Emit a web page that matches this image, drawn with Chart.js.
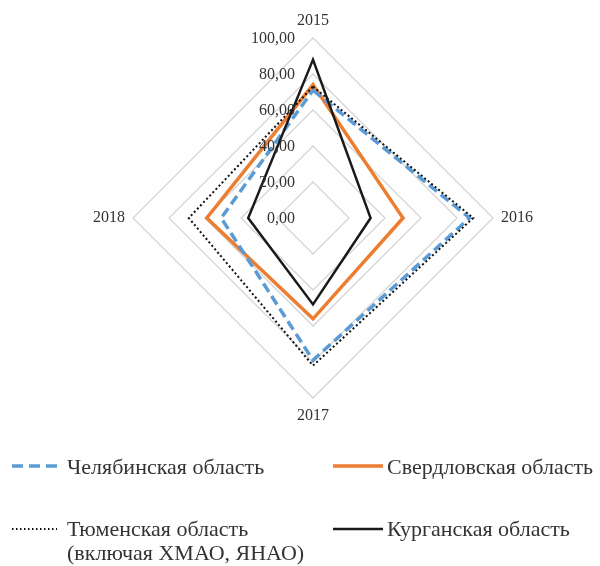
<!DOCTYPE html>
<html lang="ru">

<head>
    <meta charset="UTF-8">
    <script src="https://cdn.jsdelivr.net/npm/chart.js"></script>
    <title>Radar</title>
    <style>
        body { margin: 0; background: #fff; }
    </style>
</head>

<body>
    <div style="position: relative; width: 600px; height: 566px;">
        <canvas id="myChart"></canvas>
    </div>
    <script>
        // data
        const years = ['2015', '2016', '2017', '2018'];
        const chelyabinsk = [71, 87, 79, 51];
        const sverdlovsk = [74, 50, 56, 59];
        const tyumen = [73, 89, 82, 69];
        const kurgan = [88, 32, 48, 36];
        const tickValues = [0, 20, 40, 60, 80, 100];

        const seriesNames = [
            'Челябинская область',
            'Свердловская область',
            ['Тюменская область', '(включая ХМАО, ЯНАО)'],
            'Курганская область'
        ];

        const serif = "'Liberation Serif', 'Times New Roman', serif";
        const textColor = '#333333';

        // tick labels to the left of the vertical axis, like excel
        const tickPlugin = {
            id: 'tickLabels',
            afterDatasetsDraw(chart) {
                const scale = chart.scales.r;
                const ctx = chart.ctx;
                ctx.save();
                ctx.font = '16px ' + serif;
                ctx.fillStyle = textColor;
                ctx.textAlign = 'right';
                ctx.textBaseline = 'middle';
                tickValues.forEach(v => {
                    const d = scale.getDistanceFromCenterForValue(v);
                    ctx.fillText(v.toFixed(2).replace('.', ','), scale.xCenter - 18, scale.yCenter - d + 1);
                });
                ctx.restore();
            }
        };

        // legend in two columns
        const legendPlugin = {
            id: 'twoColLegend',
            afterDraw(chart) {
                const ctx = chart.ctx;
                const items = [
                    { ds: 2, x: 12, len: 45, tx: 67, y: 466, lines: [[seriesNames[0], 474]] },
                    { ds: 3, x: 333, len: 50, tx: 387, y: 466, lines: [[seriesNames[1], 474]] },
                    { ds: 1, x: 12, len: 45, tx: 67, y: 529, lines: [[seriesNames[2][0], 536], [seriesNames[2][1], 560]] },
                    { ds: 0, x: 333, len: 50, tx: 387, y: 529, lines: [[seriesNames[3], 536]] }
                ];
                ctx.save();
                items.forEach(it => {
                    const ds = chart.data.datasets[it.ds];
                    ctx.beginPath();
                    ctx.strokeStyle = ds.borderColor;
                    ctx.lineWidth = ds.borderWidth;
                    ctx.setLineDash(ds.legendDash || []);
                    ctx.moveTo(it.x, it.y);
                    ctx.lineTo(it.x + it.len, it.y);
                    ctx.stroke();
                    ctx.setLineDash([]);
                    ctx.font = '22px ' + serif;
                    ctx.fillStyle = textColor;
                    ctx.textAlign = 'left';
                    ctx.textBaseline = 'alphabetic';
                    it.lines.forEach(l => ctx.fillText(l[0], it.tx, l[1]));
                });
                ctx.restore();
            }
        };

        const data = {
            labels: years,
            datasets: [{
                label: seriesNames[3],
                data: kurgan,
                borderColor: '#1a1a1a',
                borderWidth: 2.5
            }, {
                label: seriesNames[2].join(' '),
                data: tyumen,
                borderColor: '#111111',
                borderWidth: 2,
                borderDash: [2, 2.5],
                legendDash: [1.5, 2.5]
            }, {
                label: seriesNames[0],
                data: chelyabinsk,
                borderColor: '#5B9BD5',
                borderWidth: 3.5,
                borderDash: [10, 5],
                legendDash: [11, 6]
            }, {
                label: seriesNames[1],
                data: sverdlovsk,
                borderColor: '#ED7D31',
                borderWidth: 3.5
            }]
        };

        const config = {
            type: 'radar',
            data: data,
            options: {
                responsive: true,
                maintainAspectRatio: false,
                animation: false,
                layout: {
                    padding: { left: 93, right: 67, top: 0, bottom: 130 }
                },
                elements: {
                    line: { tension: 0, fill: false, borderJoinStyle: 'miter' },
                    point: { radius: 0, hoverRadius: 0 }
                },
                plugins: {
                    legend: { display: false },
                    tooltip: { enabled: false }
                },
                scales: {
                    r: {
                        min: 0,
                        max: 100,
                        ticks: { stepSize: 20, display: false },
                        angleLines: { display: false },
                        grid: { color: '#d4d4d4', lineWidth: 1.25 },
                        pointLabels: {
                            padding: 8,
                            color: textColor,
                            font: { family: serif, size: 16 }
                        }
                    }
                }
            },
            plugins: [tickPlugin, legendPlugin]
        };

        const myChart = new Chart(
            document.getElementById('myChart'),
            config
        );
    </script>
</body>

</html>
